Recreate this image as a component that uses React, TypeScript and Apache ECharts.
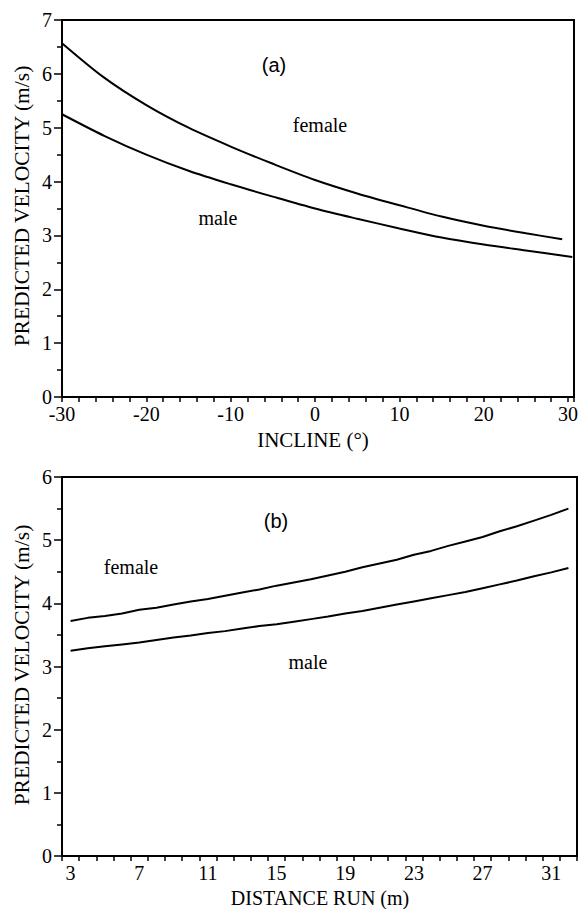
import React, { useEffect, useRef } from "react";
import * as echarts from "echarts";

// Panel (a): predicted velocity vs incline
const inclineFemale = [-30, -25, -20, -15, -10, -5, 0, 5, 10, 15, 20, 25, 29.3];
const velFemaleA = [6.57, 5.93, 5.42, 5.0, 4.65, 4.33, 4.03, 3.78, 3.56, 3.35, 3.18, 3.04, 2.93];
const inclineMale = [-30, -25, -20, -15, -10, -5, 0, 5, 10, 15, 20, 25, 30.5];
const velMaleA = [5.25, 4.85, 4.5, 4.2, 3.95, 3.72, 3.5, 3.31, 3.13, 2.96, 2.83, 2.72, 2.6];

// Panel (b): predicted velocity vs distance run
const distances = [3, 4, 5, 6, 7, 8, 9, 10, 11, 12, 13, 14, 15, 16, 17, 18, 19, 20, 21, 22, 23, 24, 25, 26, 27, 28, 29, 30, 31, 32];
const velFemaleB = [3.72, 3.77, 3.8, 3.84, 3.9, 3.93, 3.98, 4.03, 4.07, 4.12, 4.17, 4.22, 4.28, 4.33, 4.38, 4.44, 4.5, 4.57, 4.63, 4.69, 4.77, 4.83, 4.91, 4.98, 5.05, 5.14, 5.22, 5.31, 5.4, 5.5];
const velMaleB = [3.25, 3.29, 3.32, 3.35, 3.38, 3.42, 3.46, 3.49, 3.53, 3.56, 3.6, 3.64, 3.67, 3.71, 3.75, 3.79, 3.84, 3.88, 3.93, 3.98, 4.03, 4.08, 4.13, 4.18, 4.24, 4.3, 4.36, 4.43, 4.49, 4.56];

const SERIF = "Liberation Serif";
const SANS = "Liberation Sans";

export default function App() {
  const ref = useRef<HTMLDivElement>(null);
  useEffect(() => {
    if (!ref.current) return;
    const chart = echarts.init(ref.current, null, { renderer: "svg" });
    const axisLine = { show: true, onZero: false, lineStyle: { color: "#000", width: 2 } };
    const label = { color: "#000", fontFamily: SERIF, fontSize: 20 };
    const lineStyle = { color: "#000", width: 2 };
    const txt = (text: string, x: number, y: number, family: string, size: number, rot = 0) => ({
      type: "text", x, y, rotation: rot,
      style: { text, fontFamily: family, fontSize: size, fill: "#000", align: "center", verticalAlign: "middle" },
    });
    chart.setOption({
      animation: false,
      backgroundColor: "#fff",
      textStyle: { fontFamily: SERIF },
      grid: [
        { left: 62, top: 20, width: 512, height: 377, show: true, borderColor: "#000", borderWidth: 2, backgroundColor: "transparent" },
        { left: 62, top: 477, width: 515, height: 379, show: true, borderColor: "#000", borderWidth: 2, backgroundColor: "transparent" },
      ],
      xAxis: [
        {
          type: "value", gridIndex: 0, min: -30, max: 30.7, interval: 2,
          axisLine, splitLine: { show: false },
          axisTick: { show: true, length: 5, lineStyle: { color: "#000", width: 1.5 } },
          axisLabel: {
            ...label, margin: 7,
            formatter: (v: number) => (Math.abs(v % 10) < 1e-6 && v <= 30 ? String(v) : ""),
          },
        },
        {
          type: "category", gridIndex: 1, data: distances.map(String), boundaryGap: true,
          axisLine, splitLine: { show: false },
          axisTick: { show: true, interval: 0, length: 5, lineStyle: { color: "#000", width: 1.5 } },
          axisLabel: { ...label, margin: 7, interval: 3 },
        },
      ],
      yAxis: [
        {
          type: "value", gridIndex: 0, min: 0, max: 7, interval: 1,
          axisLine, splitLine: { show: false },
          axisTick: { show: true, length: 8, lineStyle: { color: "#000", width: 1.5 } },
          minorTick: { show: true, splitNumber: 2, length: 5, lineStyle: { color: "#000", width: 1.5 } },
          minorSplitLine: { show: false },
          axisLabel: { ...label, margin: 10 },
        },
        {
          type: "value", gridIndex: 1, min: 0, max: 6, interval: 1,
          axisLine, splitLine: { show: false },
          axisTick: { show: true, length: 8, lineStyle: { color: "#000", width: 1.5 } },
          minorTick: { show: true, splitNumber: 2, length: 5, lineStyle: { color: "#000", width: 1.5 } },
          minorSplitLine: { show: false },
          axisLabel: { ...label, margin: 10 },
        },
      ],
      series: [
        { name: "female (a)", type: "line", xAxisIndex: 0, yAxisIndex: 0, data: inclineFemale.map((x, i) => [x, velFemaleA[i]]), showSymbol: false, smooth: 0.3, lineStyle },
        { name: "male (a)", type: "line", xAxisIndex: 0, yAxisIndex: 0, data: inclineMale.map((x, i) => [x, velMaleA[i]]), showSymbol: false, smooth: 0.3, lineStyle },
        { name: "female (b)", type: "line", xAxisIndex: 1, yAxisIndex: 1, data: velFemaleB, showSymbol: false, lineStyle },
        { name: "male (b)", type: "line", xAxisIndex: 1, yAxisIndex: 1, data: velMaleB, showSymbol: false, lineStyle },
      ],
      graphic: [
        txt("(a)", 274, 65, SANS, 20),
        txt("female", 320, 125, SERIF, 20),
        txt("male", 218, 218, SERIF, 20),
        txt("INCLINE (°)", 313, 440, SERIF, 21),
        txt("PREDICTED VELOCITY (m/s)", 22, 206, SERIF, 21.5, Math.PI / 2),
        txt("(b)", 276, 521, SANS, 20),
        txt("female", 131, 567, SERIF, 20),
        txt("male", 308, 662, SERIF, 20),
        txt("DISTANCE RUN (m)", 320, 898, SERIF, 20),
        txt("PREDICTED VELOCITY (m/s)", 22, 665, SERIF, 21.5, Math.PI / 2),
      ],
    });
    return () => chart.dispose();
  }, []);
  return <div ref={ref} style={{ position: "absolute", left: 0, top: 0, width: 585, height: 909 }} />;
}
